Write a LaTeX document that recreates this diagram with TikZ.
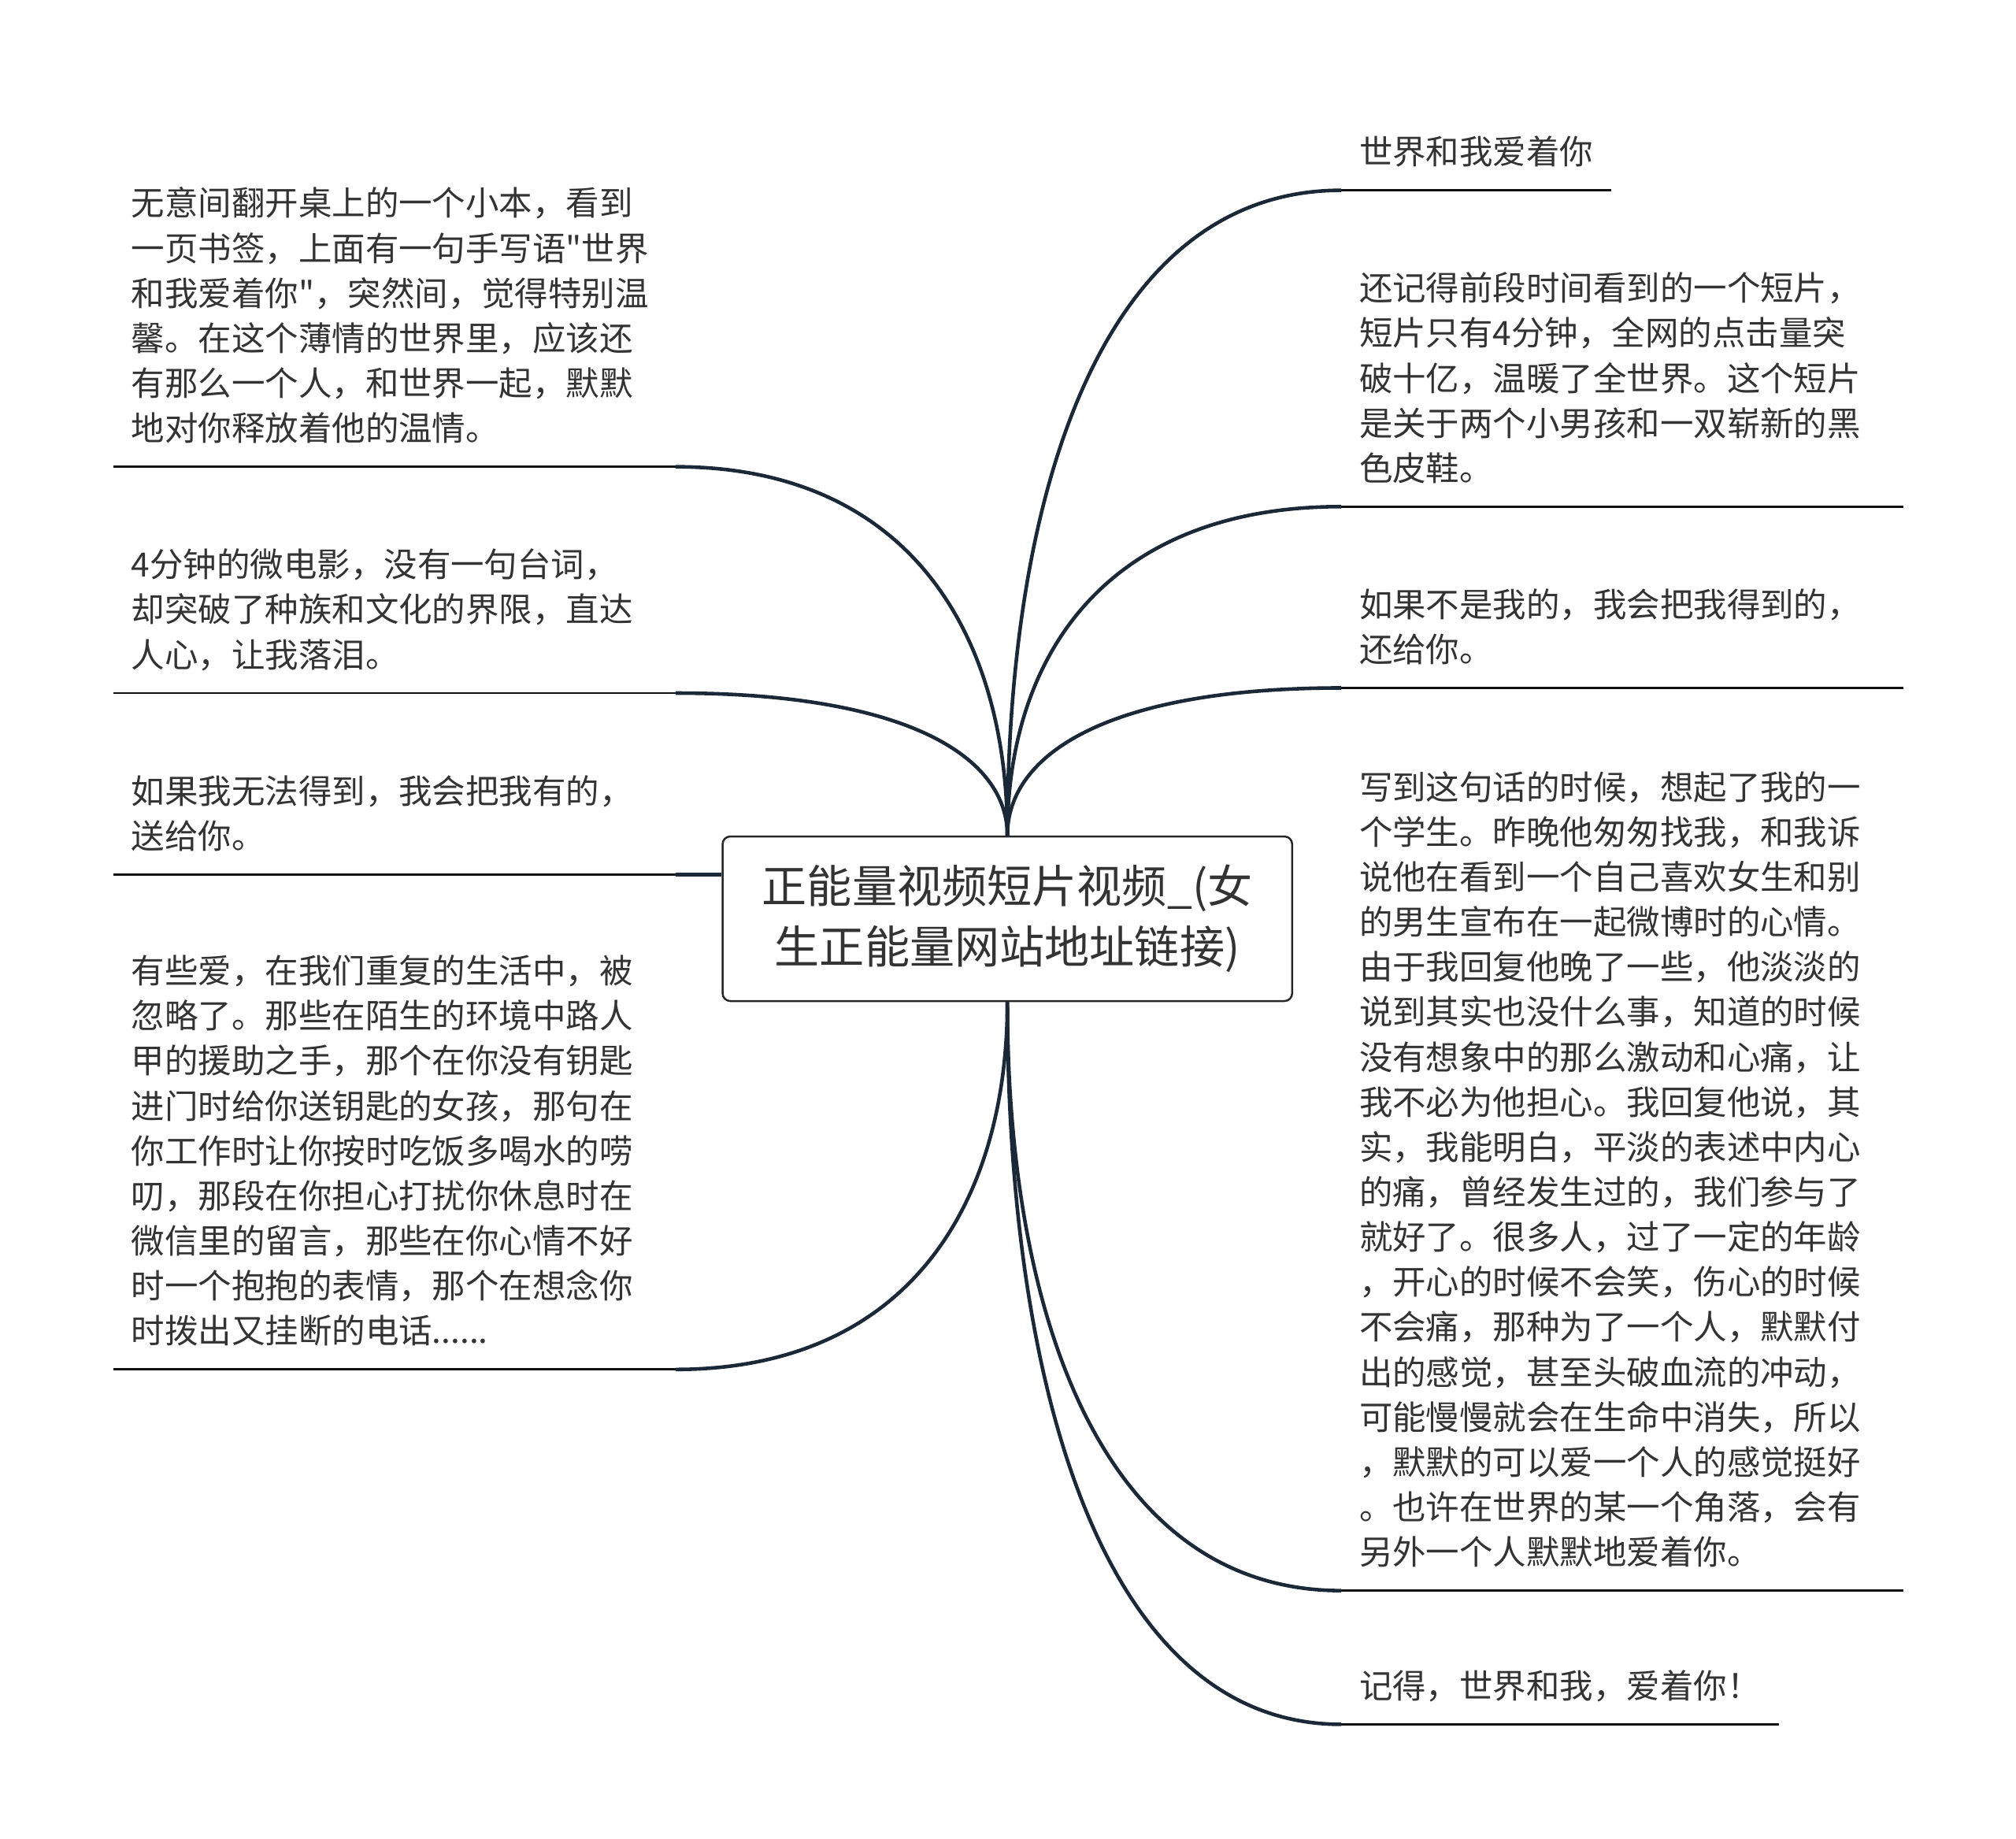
\documentclass[tikz,border=0pt]{standalone}
\usepackage{fontspec}
\setmainfont{Noto Sans CJK SC}[Ligatures=TeXOff]
\usetikzlibrary{calc}

\definecolor{branchc}{HTML}{1B2838}
\definecolor{textc}{HTML}{333333}
\definecolor{linec}{HTML}{111111}

\tikzset{
  leaf/.style={anchor=south west, inner xsep=14pt, inner ysep=9.5pt, align=left,
    text=textc, font=\fontsize{26}{35}\selectfont, execute at end node=\strut},
  wide/.style={leaf, text width=409pt},
  uline/.style={draw=linec, line width=1.8pt},
  branch/.style={draw=branchc, line width=2.8pt},
}

\begin{document}
\begin{tikzpicture}[x=1pt,y=-1pt]
\useasboundingbox (0,0) rectangle (1568,1430);

% noeud central
\node[draw=black!85, line width=1.5pt, rounded corners=6pt, minimum width=443pt,
  minimum height=128pt, align=center, text=textc,
  font=\fontsize{35}{47}\selectfont] (root) at (783.5,714.5)
  {正能量视频短片视频\_(女\\生正能量网站地址链接)};

% branches de gauche
\node[wide] (l1) at (88,363) {无意间翻开桌上的一个小本，看到\\一页书签，上面有一句手写语"世界\\和我爱着你"，突然间，觉得特别温\\馨。在这个薄情的世界里，应该还\\有那么一个人，和世界一起，默默\\地对你释放着他的温情。};
\node[wide] (l2) at (88,539) {4分钟的微电影，没有一句台词，\\却突破了种族和文化的界限，直达\\人心，让我落泪。};
\node[wide] (l3) at (88,680) {如果我无法得到，我会把我有的，\\送给你。};
\node[wide] (l4) at (88,1065) {有些爱，在我们重复的生活中，被\\忽略了。那些在陌生的环境中路人\\甲的援助之手，那个在你没有钥匙\\进门时给你送钥匙的女孩，那句在\\你工作时让你按时吃饭多喝水的唠\\叨，那段在你担心打扰你休息时在\\微信里的留言，那些在你心情不好\\时一个抱抱的表情，那个在想念你\\时拨出又挂断的电话......};

% branches de droite
\node[leaf] (r1) at (1043,148) {世界和我爱着你};
\node[wide] (r2) at (1043,394) {还记得前段时间看到的一个短片，\\短片只有4分钟，全网的点击量突\\破十亿，温暖了全世界。这个短片\\是关于两个小男孩和一双崭新的黑\\色皮鞋。};
\node[wide] (r3) at (1043,535) {如果不是我的，我会把我得到的，\\还给你。};
\node[wide] (r4) at (1043,1237) {写到这句话的时候，想起了我的一\\个学生。昨晚他匆匆找我，和我诉\\说他在看到一个自己喜欢女生和别\\的男生宣布在一起微博时的心情。\\由于我回复他晚了一些，他淡淡的\\说到其实也没什么事，知道的时候\\没有想象中的那么激动和心痛，让\\我不必为他担心。我回复他说，其\\实，我能明白，平淡的表述中内心\\的痛，曾经发生过的，我们参与了\\就好了。很多人，过了一定的年龄\\，开心的时候不会笑，伤心的时候\\不会痛，那种为了一个人，默默付\\出的感觉，甚至头破血流的冲动，\\可能慢慢就会在生命中消失，所以\\，默默的可以爱一个人的感觉挺好\\。也许在世界的某一个角落，会有\\另外一个人默默地爱着你。};
\node[leaf] (r5) at (1043,1341) {记得，世界和我，爱着你！};

% soulignements
\foreach \n in {l1,l2,l3,l4,r1,r2,r3,r4,r5}
  \draw[uline] (\n.south west) -- (\n.south east);

% liaisons vers le noeud central
\foreach \n in {l1,l2}
  \draw[branch] (root.north) .. controls ($(root.north)!.55!(root.north |- \n.south east)$)
    and ($(\n.south east)!.7!(\n.south east -| root.north)$) .. (\n.south east);
\foreach \n in {r1,r2,r3}
  \draw[branch] (root.north) .. controls ($(root.north)!.55!(root.north |- \n.south west)$)
    and ($(\n.south west)!.7!(\n.south west -| root.north)$) .. (\n.south west);
\draw[branch] (l3.south east) -- (l3.south east -| root.west);
\draw[branch] (root.south) .. controls ($(root.south)!.55!(root.south |- l4.south east)$)
    and ($(l4.south east)!.7!(l4.south east -| root.south)$) .. (l4.south east);
\foreach \n in {r4,r5}
  \draw[branch] (root.south) .. controls ($(root.south)!.55!(root.south |- \n.south west)$)
    and ($(\n.south west)!.7!(\n.south west -| root.south)$) .. (\n.south west);
\end{tikzpicture}
\end{document}
